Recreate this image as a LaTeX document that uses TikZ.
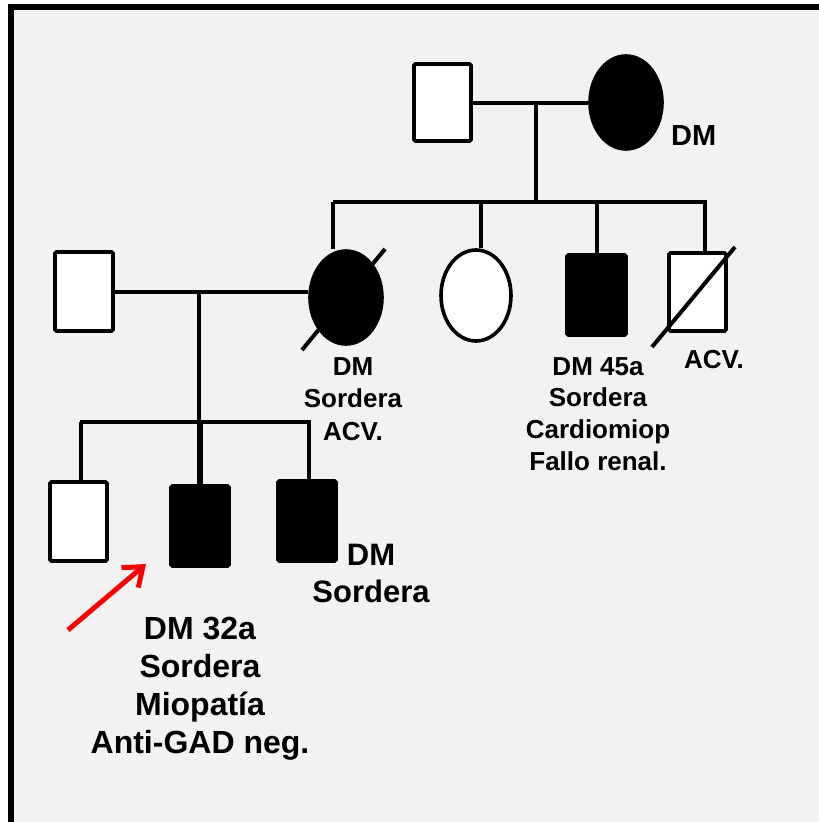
\documentclass[tikz,border=0pt]{standalone}
\usepackage{fontspec}
\setmainfont{Liberation Sans}
\usetikzlibrary{shapes.geometric,arrows.meta,calc}
\definecolor{bggray}{HTML}{F2F2F2}
\definecolor{arrred}{HTML}{FF0000}
\begin{document}
\begin{tikzpicture}[x=1pt,y=-1pt,
  ln/.style={line width=4pt},
  sqbox/.style={draw,line width=3.6pt,rectangle,rounded corners=1.5pt,inner sep=0pt,fill=white},
  elbox/.style={draw,line width=3.6pt,ellipse,inner sep=0pt,fill=white},
  aff/.style={fill=black},
]
\useasboundingbox (0,0) rectangle (819,822);
\fill[white] (0,0) rectangle (819,822);
\draw[line width=6pt,fill=bggray] (10.5,7) rectangle (845,825);

% generation I
\node[sqbox,minimum width=57pt,minimum height=77pt] (gf) at (442.5,102.5) {};
\node[elbox,aff,minimum width=72pt,minimum height=93pt] (gm) at (626,102.5) {};
% generation II
\node[elbox,aff,minimum width=72pt,minimum height=93pt] (m2) at (346,297.5) {};
\node[elbox,minimum width=70pt,minimum height=91pt] (au) at (476,295.5) {};
\node[sqbox,aff,minimum width=59pt,minimum height=80pt] (un) at (596.5,295) {};
\node[sqbox,minimum width=57pt,minimum height=78pt] (cr) at (697.5,292) {};
\node[sqbox,minimum width=58pt,minimum height=79pt] (f2) at (84,291.5) {};
% generation III
\node[sqbox,minimum width=57pt,minimum height=79pt] (c1) at (78.5,521.5) {};
\node[sqbox,aff,minimum width=58pt,minimum height=80pt] (c2) at (200,526) {};
\node[sqbox,aff,minimum width=58pt,minimum height=80pt] (c3) at (307,521) {};

% coordinates of lines
\coordinate (d1) at (536,102.5);
\coordinate (s1L) at (333,202);
\coordinate (s1R) at (706.5,202);
\coordinate (s1m) at (536,202);
\coordinate (s1a) at (481,202);
\coordinate (s1u) at (596.5,202);
\coordinate (s1c) at (705,202);
\coordinate (d2) at (199,292);
\coordinate (s2L) at (79.5,422);
\coordinate (s2R) at (310.5,422);
\coordinate (s2m) at (199,422);
\coordinate (s2a) at (81,422);
\coordinate (s2b) at (200,422);
\coordinate (s2c) at (309,422);

% connectors
\draw[ln] (gf.east) -- (gm.west);
\draw[ln] (d1) -- (s1m);
\draw[ln] (s1L) -- (s1R);
\draw[ln] (s1L) -- (s1L |- m2.north);
\draw[ln] (s1a) -- (s1a |- au.north);
\draw[ln] (s1u) -- (un.north);
\draw[ln] (s1c) -- (s1c |- cr.north);
\draw[ln] (f2.east) -- (f2.east -| m2.west);
\draw[ln] (d2) -- (s2m);
\draw[ln] (s2L) -- (s2R);
\draw[ln] (s2a) -- (s2a |- c1.north);
\draw[line width=5.5pt] (s2b) -- (c2.north);
\draw[ln] (s2c) -- (s2c |- c3.north);

% deceased slashes
\draw[ln] ([shift={(-44,52.5)}]m2.center) -- ([shift={(39,-48.5)}]m2.center);
\draw[ln] ([shift={(-45.5,55)}]cr.center) -- ([shift={(37.5,-45)}]cr.center);

% proband arrow
\coordinate (pa) at (68,630);
\coordinate (pt) at (146,564);
\draw[arrred,line width=5pt,-{Straight Barb[length=17pt,width=26pt,line width=5pt]}] (pa) -- (pt);

% labels
\node[inner sep=0pt,anchor=base west,font=\fontsize{29}{35}\selectfont\bfseries] (lgm) at (671,145) {DM};
\node[inner sep=0pt,anchor=base,font=\fontsize{26}{32.5}\selectfont\bfseries] (lm2) at (353,375)
  {\begin{tabular}[t]{@{}c@{}}DM\\Sordera\\ACV.\end{tabular}};
\node[inner sep=0pt,anchor=base,font=\fontsize{26}{31.7}\selectfont\bfseries] (lun) at (598,375)
  {\begin{tabular}[t]{@{}c@{}}DM 45a\\Sordera\\Cardiomiop\\Fallo renal.\end{tabular}};
\node[inner sep=0pt,anchor=base,font=\fontsize{26}{32}\selectfont\bfseries] (lcr) at (714,368) {ACV.};
\node[inner sep=0pt,anchor=base,font=\fontsize{31}{37}\selectfont\bfseries] (lc3) at (371,565)
  {\begin{tabular}[t]{@{}c@{}}DM\\Sordera\end{tabular}};
\node[inner sep=0pt,anchor=base,font=\fontsize{32}{38}\selectfont\bfseries] (lc2) at (200,639)
  {\begin{tabular}[t]{@{}c@{}}DM 32a\\Sordera\\Miopatía\\Anti-GAD neg.\end{tabular}};
\end{tikzpicture}
\end{document}
